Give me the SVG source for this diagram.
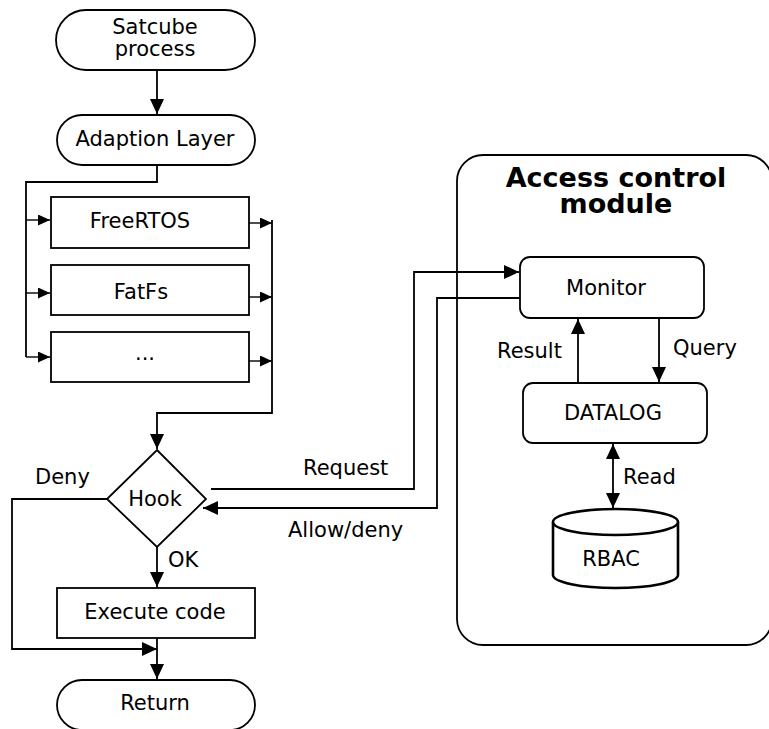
<svg xmlns="http://www.w3.org/2000/svg" width="769" height="729" viewBox="0 0 769 729">
  <style>
    .shape { fill: #ffffff; stroke: #000000; stroke-width: 1.8; }
    .wire { fill: none; stroke: #000000; stroke-width: 1.8; }
    .thin { fill: none; stroke: #000000; stroke-width: 1.4; }
    text { font-family: "DejaVu Sans", "Liberation Sans", sans-serif; font-size: 21px; fill: #000000; }
    .mid { text-anchor: middle; }
    .title { font-size: 27px; font-weight: bold; text-anchor: middle; }
  </style>
  <defs>
    <marker id="arrow" markerUnits="userSpaceOnUse" markerWidth="16" markerHeight="14" refX="15" refY="7" orient="auto-start-reverse">
      <path d="M0,0 L15,7 L0,14 z" fill="#000000"/>
    </marker>
    <marker id="arrowSmall" markerUnits="userSpaceOnUse" markerWidth="13" markerHeight="11" refX="12" refY="5.5" orient="auto">
      <path d="M0,0 L12,5.5 L0,11 z" fill="#000000"/>
    </marker>
  </defs>

  <rect width="769" height="729" fill="#ffffff"/>

  <!-- module container -->
  <g id="access-control-module">
    <rect class="shape" x="457" y="155" width="315" height="490" rx="26" ry="26"/>
    <text class="title" x="616" y="187">Access control</text>
    <text class="title" x="616" y="213">module</text>
  </g>

  <!-- connectors -->
  <g id="connectors">
    <path class="wire" d="M157,70 V114" marker-end="url(#arrow)"/>
    <path class="wire" d="M157,165 V182 H26 V357"/>
    <path class="thin" d="M26,220 H50" marker-end="url(#arrowSmall)"/>
    <path class="thin" d="M26,293 H50" marker-end="url(#arrowSmall)"/>
    <path class="thin" d="M26,357 H50" marker-end="url(#arrowSmall)"/>
    <path class="thin" d="M249,223 H272" marker-end="url(#arrowSmall)"/>
    <path class="thin" d="M249,297 H272" marker-end="url(#arrowSmall)"/>
    <path class="thin" d="M249,361 H272" marker-end="url(#arrowSmall)"/>
    <path class="wire" d="M272,220 V413 H157 V449" marker-end="url(#arrow)"/>
    <path class="wire" d="M107,499 H12 V649 H157" marker-end="url(#arrow)"/>
    <path class="wire" d="M157,547 V587" marker-end="url(#arrow)"/>
    <path class="wire" d="M157,638 V679" marker-end="url(#arrow)"/>
    <path class="wire" d="M211,489 H414 V272 H519" marker-end="url(#arrow)"/>
    <path class="wire" d="M520,298 H437 V508 H203" marker-end="url(#arrow)"/>
    <path class="wire" d="M578,383 V319" marker-end="url(#arrow)"/>
    <path class="wire" d="M659,318 V382" marker-end="url(#arrow)"/>
    <path class="wire" d="M613,444 V508" marker-start="url(#arrow)" marker-end="url(#arrow)"/>
  </g>

  <!-- connector labels -->
  <g id="labels">
    <text x="35" y="484">Deny</text>
    <text x="168" y="567">OK</text>
    <text x="303" y="475">Request</text>
    <text x="288" y="537">Allow/deny</text>
    <text x="497" y="358">Result</text>
    <text x="673" y="355">Query</text>
    <text x="623" y="484">Read</text>
  </g>

  <g id="satcube-process">
    <rect class="shape" x="56" y="10" width="199" height="60" rx="30" ry="30"/>
    <text class="mid" x="155" y="34">Satcube</text>
    <text class="mid" x="155" y="56">process</text>
  </g>

  <g id="adaption-layer">
    <rect class="shape" x="57" y="115" width="198" height="50" rx="25" ry="25"/>
    <text class="mid" x="155" y="146">Adaption Layer</text>
  </g>

  <g id="freertos">
    <rect class="shape" x="51" y="197" width="198" height="51"/>
    <text class="mid" x="140" y="228">FreeRTOS</text>
  </g>

  <g id="fatfs">
    <rect class="shape" x="51" y="265" width="198" height="50"/>
    <text class="mid" x="141" y="299">FatFs</text>
  </g>

  <g id="other-libs">
    <rect class="shape" x="51" y="332" width="198" height="50"/>
    <text class="mid" x="145" y="360">...</text>
  </g>

  <g id="hook">
    <polygon class="shape" points="157,450 206,499 157,547 107,499"/>
    <text class="mid" x="155" y="506">Hook</text>
  </g>

  <g id="execute-code">
    <rect class="shape" x="57" y="588" width="198" height="50"/>
    <text class="mid" x="155" y="619">Execute code</text>
  </g>

  <g id="return">
    <rect class="shape" x="57" y="680" width="198" height="50" rx="25" ry="25"/>
    <text class="mid" x="155" y="710">Return</text>
  </g>

  <g id="monitor">
    <rect class="shape" x="520" y="257" width="184" height="61" rx="10" ry="10"/>
    <text class="mid" x="606" y="295">Monitor</text>
  </g>

  <g id="datalog">
    <rect class="shape" x="523" y="383" width="184" height="60" rx="10" ry="10"/>
    <text class="mid" x="613" y="420">DATALOG</text>
  </g>

  <g id="rbac">
    <path d="M553,522 V575 A62.5,13 0 0 0 678,575 V522" fill="#ffffff" stroke="#000000" stroke-width="2.6"/>
    <ellipse cx="615.5" cy="522" rx="62.5" ry="13" fill="#ffffff" stroke="#000000" stroke-width="2.6"/>
    <text class="mid" x="611" y="566">RBAC</text>
  </g>
</svg>
